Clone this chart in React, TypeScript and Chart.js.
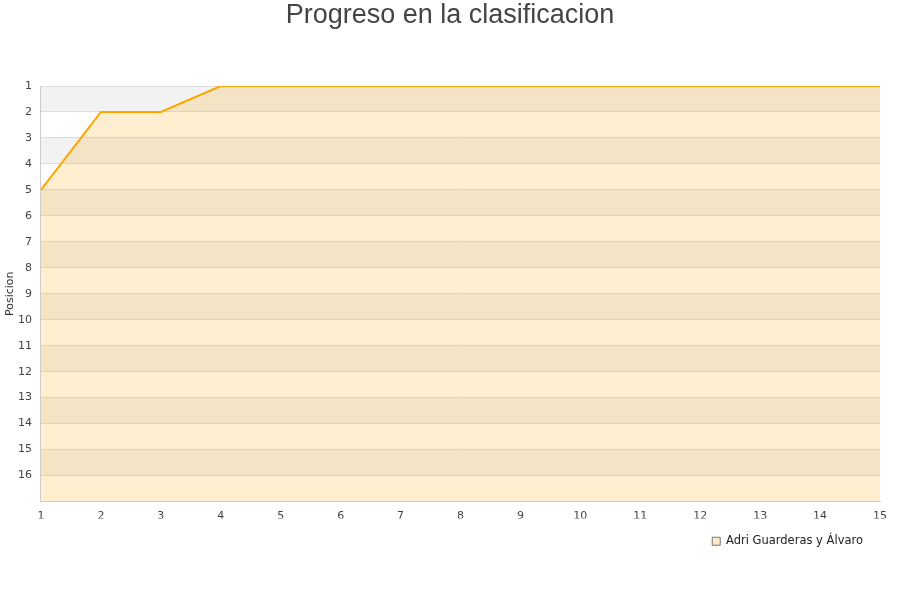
import React, { useEffect, useRef } from "react";
import { Chart, registerables } from "chart.js";

Chart.register(...registerables);

const TITLE = "Progreso en la clasificacion";
const SERIES_NAME = "Adri Guarderas y Álvaro";
const Y_TITLE = "Posicion";
const jornadas = ["1", "2", "3", "4", "5", "6", "7", "8", "9", "10", "11", "12", "13", "14", "15"];
const posiciones = [5, 2, 2, 1, 1, 1, 1, 1, 1, 1, 1, 1, 1, 1, 1];
const Y_MIN = 1;
const Y_MAX = 17;

const bandsPlugin = {
  id: "bands",
  beforeDraw(chart: any) {
    const { ctx, chartArea, scales } = chart;
    const y = scales.y;
    ctx.save();
    for (let v = Y_MIN; v < Y_MAX; v += 2) {
      const y1 = y.getPixelForValue(v);
      const y2 = y.getPixelForValue(v + 1);
      ctx.fillStyle = "#f2f2f2";
      ctx.fillRect(chartArea.left, Math.min(y1, y2), chartArea.right - chartArea.left, Math.abs(y2 - y1));
    }
    ctx.restore();
  },
};

const textPlugin = {
  id: "texts",
  afterDraw(chart: any) {
    const { ctx, width, chartArea } = chart;
    ctx.save();
    ctx.fillStyle = "#444444";
    ctx.font = "27px 'Liberation Sans', Arial, sans-serif";
    ctx.textAlign = "center";
    ctx.textBaseline = "middle";
    ctx.fillText(TITLE, width / 2, 16);
    ctx.translate(10, (chartArea.top + chartArea.bottom) / 2);
    ctx.rotate(-Math.PI / 2);
    ctx.font = "11px 'DejaVu Sans', sans-serif";
    ctx.fillStyle = "#333333";
    ctx.fillText(Y_TITLE, 0, 0);
    ctx.restore();
  },
};

export default function App() {
  const ref = useRef<HTMLCanvasElement | null>(null);
  useEffect(() => {
    if (!ref.current) return;
    const chart = new Chart(ref.current, {
      type: "line",
      data: {
        labels: jornadas,
        datasets: [
          {
            label: SERIES_NAME,
            data: posiciones,
            borderColor: "#ffa500",
            backgroundColor: "rgba(255,165,0,0.19)",
            borderWidth: 2,
            pointRadius: 0,
            pointHoverRadius: 0,
            tension: 0,
            fill: "start",
          },
        ],
      },
      options: {
        animation: false,
        responsive: false,
        maintainAspectRatio: false,
        layout: { padding: { left: 9, right: 20, top: 86, bottom: 43 } },
        plugins: {
          title: { display: false },
          legend: {
            position: "bottom",
            align: "end",
            labels: {
              boxWidth: 8,
              boxHeight: 8,
              color: "#222222",
              padding: 17,
              font: { family: "'DejaVu Sans', sans-serif", size: 11.5 },
              generateLabels: (c: any) =>
                c.data.datasets.map((d: any, i: number) => ({
                  text: d.label,
                  fillStyle: "#fde9c5",
                  strokeStyle: "#777777",
                  lineWidth: 1,
                  datasetIndex: i,
                  fontColor: "#222222",
                })),
            },
          },
          tooltip: { enabled: false },
        },
        scales: {
          x: {
            type: "category",
            offset: false,
            grid: { display: false, drawTicks: false },
            border: { display: true, color: "#cccccc" },
            ticks: {
              color: "#444444",
              padding: 8,
              maxRotation: 0,
              font: { family: "'DejaVu Sans', sans-serif", size: 11 },
            },
            afterFit: (scale: any) => {
              scale.height = 17;
            },
          },
          y: {
            type: "linear",
            reverse: true,
            min: Y_MIN,
            max: Y_MAX,
            grid: { color: "#dddddd", drawTicks: false },
            border: { display: true, color: "#cccccc" },
            ticks: {
              stepSize: 1,
              color: "#444444",
              padding: 9,
              font: { family: "'DejaVu Sans', sans-serif", size: 11 },
              callback: (v: any) => (v >= Y_MAX ? "" : String(v)),
            },
          },
        },
      },
      plugins: [bandsPlugin, textPlugin],
    });
    return () => chart.destroy();
  }, []);
  return (
    <div style={{ position: "absolute", left: 0, top: 0, width: 900, height: 600, background: "#ffffff" }}>
      <canvas ref={ref} width={900} height={600} style={{ width: 900, height: 600 }} />
    </div>
  );
}
